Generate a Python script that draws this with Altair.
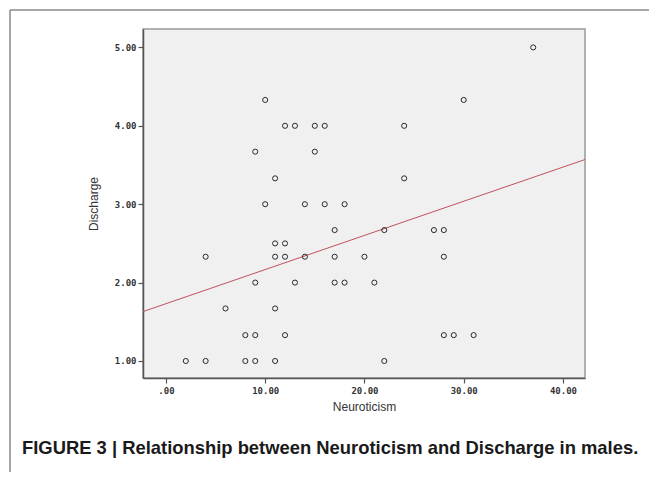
import altair as alt
import pandas as pd

# Neuroticism (x) and Discharge (y) scores
neuroticism = [10, 12, 13, 9, 11, 37, 30, 15, 16, 15, 24, 24,
               10, 11, 12, 11, 12, 4, 9, 13, 6, 11, 8, 9, 12,
               2, 4, 8, 9, 11, 14, 16, 18, 17, 22, 27, 28,
               14, 17, 20, 28, 17, 18, 21, 28, 29, 31, 22]
discharge = [4.33, 4.00, 4.00, 3.67, 3.33, 5.00, 4.33, 4.00, 4.00, 3.67, 4.00, 3.33,
             3.00, 2.50, 2.50, 2.33, 2.33, 2.33, 2.00, 2.00, 1.67, 1.67, 1.33, 1.33, 1.33,
             1.00, 1.00, 1.00, 1.00, 1.00, 3.00, 3.00, 3.00, 2.67, 2.67, 2.67, 2.67,
             2.33, 2.33, 2.33, 2.33, 2.00, 2.00, 2.00, 1.33, 1.33, 1.33, 1.00]
# fitted line end points
fit_x = [-2.31, 42.22]
fit_y = [1.63, 3.57]
x_ticks = [0, 10, 20, 30, 40]
y_ticks = [1, 2, 3, 4, 5]
x_domain = [-2.31, 42.22]
y_domain = [0.783, 5.235]
caption = "FIGURE 3 | Relationship between Neuroticism and Discharge in males."

df = pd.DataFrame({"Neuroticism": neuroticism, "Discharge": discharge})
fit_df = pd.DataFrame({"Neuroticism": fit_x, "Discharge": fit_y})

label_expr = "datum.value == 0 ? '.00' : format(datum.value, '.2f')"

xenc = alt.X("Neuroticism:Q",
             scale=alt.Scale(domain=x_domain, nice=False, zero=False),
             axis=alt.Axis(values=x_ticks, labelExpr=label_expr, title="Neuroticism",
                           grid=False, tickSize=5, labelPadding=3, titlePadding=6))
yenc = alt.Y("Discharge:Q",
             scale=alt.Scale(domain=y_domain, nice=False, zero=False),
             axis=alt.Axis(values=y_ticks, labelExpr=label_expr, title="Discharge",
                           grid=False, tickSize=5, labelPadding=2, titlePadding=14))

points = alt.Chart(df).mark_point(shape="circle", filled=False, size=26, color="#2a2a2a",
                                  strokeWidth=1, opacity=1).encode(x=xenc, y=yenc)

fit = alt.Chart(fit_df).mark_line(color="#c2505e", strokeWidth=1, clip=True).encode(
    x=xenc, y=yenc)

one = alt.Chart(pd.DataFrame({"a": [0]}))
frame_left = one.mark_rule(color="#8a8a8a", strokeWidth=1.5).encode(
    x=alt.value(-133), y=alt.value(-19), y2=alt.value(460))
frame_top = one.mark_rule(color="#8a8a8a", strokeWidth=1.5).encode(
    x=alt.value(-133), x2=alt.value(520), y=alt.value(-19))
cap = one.mark_text(align="left", baseline="middle", font="Liberation Sans", fontSize=18.4,
                    fontWeight="bold", color="#1a1a1a").encode(
    x=alt.value(-121), y=alt.value(419), text=alt.value(caption))

chart = alt.layer(frame_left, frame_top, fit, points, cap).properties(
    width=442, height=349,
    autosize=alt.AutoSizeParams(type="none"),
    padding={"left": 135, "top": 21, "right": 64, "bottom": 94},
    background="white",
).configure_view(
    fill="#f0f0f0", stroke="#999999", strokeWidth=1.5
).configure_axis(
    domainColor="#555555", domainWidth=1.5, tickColor="#555555", tickWidth=1.2,
    labelFont="DejaVu Sans Mono", labelFontSize=9, labelFontWeight="bold",
    labelColor="#333333", titleFont="Liberation Sans", titleFontSize=12,
    titleFontWeight="normal", titleColor="#333333"
)

chart.save("out.html", embed_options={"renderer": "svg", "actions": False})
